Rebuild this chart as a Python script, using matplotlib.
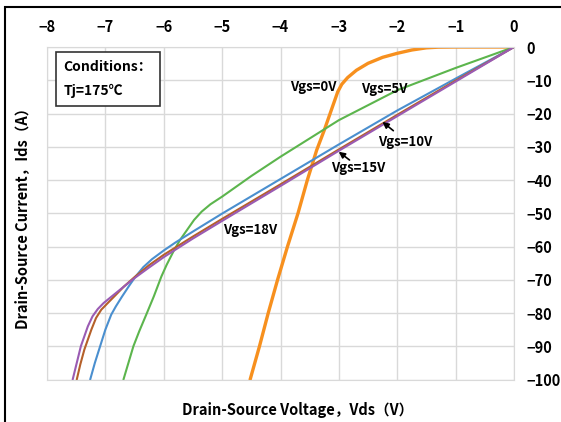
import matplotlib
matplotlib.use("Agg")
import matplotlib.pyplot as plt
from matplotlib.patches import Rectangle

plt.rcParams['font.family'] = ['Noto Sans CJK SC', 'DejaVu Sans']
plt.rcParams['font.weight'] = 'bold'

# reverse characteristics, Tj = 175 C  (Vds in V, Ids in A)
vds_0v = [0, -1.0, -1.3, -1.5, -1.75, -2.0, -2.25, -2.5, -2.7, -2.85, -2.95, -3.02,
          -3.08, -3.15, -3.25, -3.38, -3.54, -3.70, -3.88, -4.05, -4.21, -4.36, -4.52]
ids_0v = [0, 0, -0.05, -0.25, -0.9, -1.9, -3.1, -4.9, -7.0, -9.2, -11.2, -13.5,
          -16.5, -20, -25, -31, -40, -50, -60, -70, -80, -90, -100]

vds_5v = [0, -1, -2, -3, -4, -4.5, -5, -5.2, -5.35, -5.48, -5.6, -5.72, -5.82,
          -5.95, -6.04, -6.17, -6.3, -6.42, -6.52, -6.69]
ids_5v = [0, -6.3, -13, -22, -33, -38.8, -45, -47.3, -49.5, -52, -55, -58, -61,
          -65.5, -69, -75, -80.5, -85.5, -90, -100]

vds_10v = [0, -1, -2, -3, -4, -5, -5.5, -5.8, -6.0, -6.2, -6.35, -6.49, -6.6, -6.72,
           -6.82, -6.9, -7.0, -7.09, -7.18, -7.26]
ids_10v = [0, -9.5, -19.1, -29.3, -39.7, -50.1, -55.5, -58.8, -61.2, -63.8, -66.2, -69.2,
           -72, -75.2, -78, -80.5, -85, -90, -95, -100]

vds_15v = [0, -1, -2, -3, -4, -5, -5.5, -6, -6.25, -6.5, -6.68, -6.83, -6.97, -7.07,
           -7.16, -7.24, -7.3, -7.36, -7.43, -7.49]
ids_15v = [0, -10.1, -20.4, -30.8, -41.3, -51.7, -57, -62.5, -65.6, -69.2, -72, -74.7,
           -77.2, -79, -81.5, -85, -88, -91, -95.5, -100]

vds_18v = [0, -1, -2, -3, -4, -5, -5.5, -6, -6.25, -6.5, -6.7, -6.89, -7.03, -7.13,
           -7.22, -7.3, -7.37, -7.42, -7.49, -7.56]
ids_18v = [0, -10.4, -20.8, -31.2, -41.8, -52.3, -57.6, -63.2, -66.3, -69.5, -72.3, -75,
           -77, -78.8, -81, -84, -87.5, -90, -95, -100]

x_ticks = [-8, -7, -6, -5, -4, -3, -2, -1, 0]
y_ticks = [0, -10, -20, -30, -40, -50, -60, -70, -80, -90, -100]

fig = plt.figure(figsize=(5.61, 4.22), dpi=100)

# outer chart frame (only top and left edges fall inside the image)
fig.patches.append(Rectangle((5 / 561, -0.05), 1.0, 1 - 7 / 422 + 0.05,
                             transform=fig.transFigure, fill=False,
                             edgecolor='black', linewidth=1.5))

ax = fig.add_axes([47 / 561, 1 - 379.5 / 422, 467 / 561, 332.5 / 422])

line_kw = dict(solid_joinstyle='round', solid_capstyle='round')
ax.plot(vds_0v, ids_0v, color='#f7901e', linewidth=2.4, **line_kw)
ax.plot(vds_5v, ids_5v, color='#5cb54d', linewidth=1.5, **line_kw)
ax.plot(vds_10v, ids_10v, color='#4a8fcf', linewidth=1.5, **line_kw)
ax.plot(vds_15v, ids_15v, color='#b5602a', linewidth=1.5, **line_kw)
ax.plot(vds_18v, ids_18v, color='#9a5bb3', linewidth=1.5, **line_kw)

ax.set_xlim(-8, 0)
ax.set_ylim(-100, 0)
ax.set_xticks(x_ticks)
ax.set_yticks(y_ticks)
ax.xaxis.tick_top()
ax.yaxis.tick_right()
ax.tick_params(length=0, labelsize=10.5, pad=9)
ax.tick_params(axis='y', pad=9)
ax.grid(True, color='#d9d9d9', linewidth=1)
for s in ax.spines.values():
    s.set_color('#d9d9d9')

# curve labels
lab = dict(fontsize=9.5, fontweight='bold', ha='center', va='center')
ax.text(-3.44, -11.9, 'Vgs=0V', **lab)
ax.text(-2.23, -12.6, 'Vgs=5V', **lab)
ax.text(-1.87, -28.6, 'Vgs=10V', **lab)
ax.text(-2.67, -36.4, 'Vgs=15V', **lab)
ax.text(-4.52, -55.0, 'Vgs=18V', **lab)
arrow = dict(arrowstyle='-|>', color='black', lw=1.2, mutation_scale=9)
ax.annotate('', xy=(-2.29, -22.0), xytext=(-2.03, -25.7), arrowprops=arrow)
ax.annotate('', xy=(-3.04, -31.0), xytext=(-2.78, -34.5), arrowprops=arrow)

# test conditions box
ax.text(-7.72, -3.8, 'Conditions：\nTj=175℃', fontsize=10, fontweight='bold',
        ha='left', va='top', linespacing=1.9,
        bbox=dict(boxstyle='square,pad=0.55', facecolor='white',
                  edgecolor='#333333', linewidth=1.2))

fig.text(298 / 561, 1 - 410 / 422, 'Drain-Source Voltage，Vds（V）',
         fontsize=10.5, fontweight='bold', ha='center', va='center')
fig.text(22 / 561, 1 - 215 / 422, 'Drain-Source Current，Ids（A）',
         fontsize=10.5, fontweight='bold', ha='center', va='center', rotation=90)

fig.savefig('out.png', dpi=100)
